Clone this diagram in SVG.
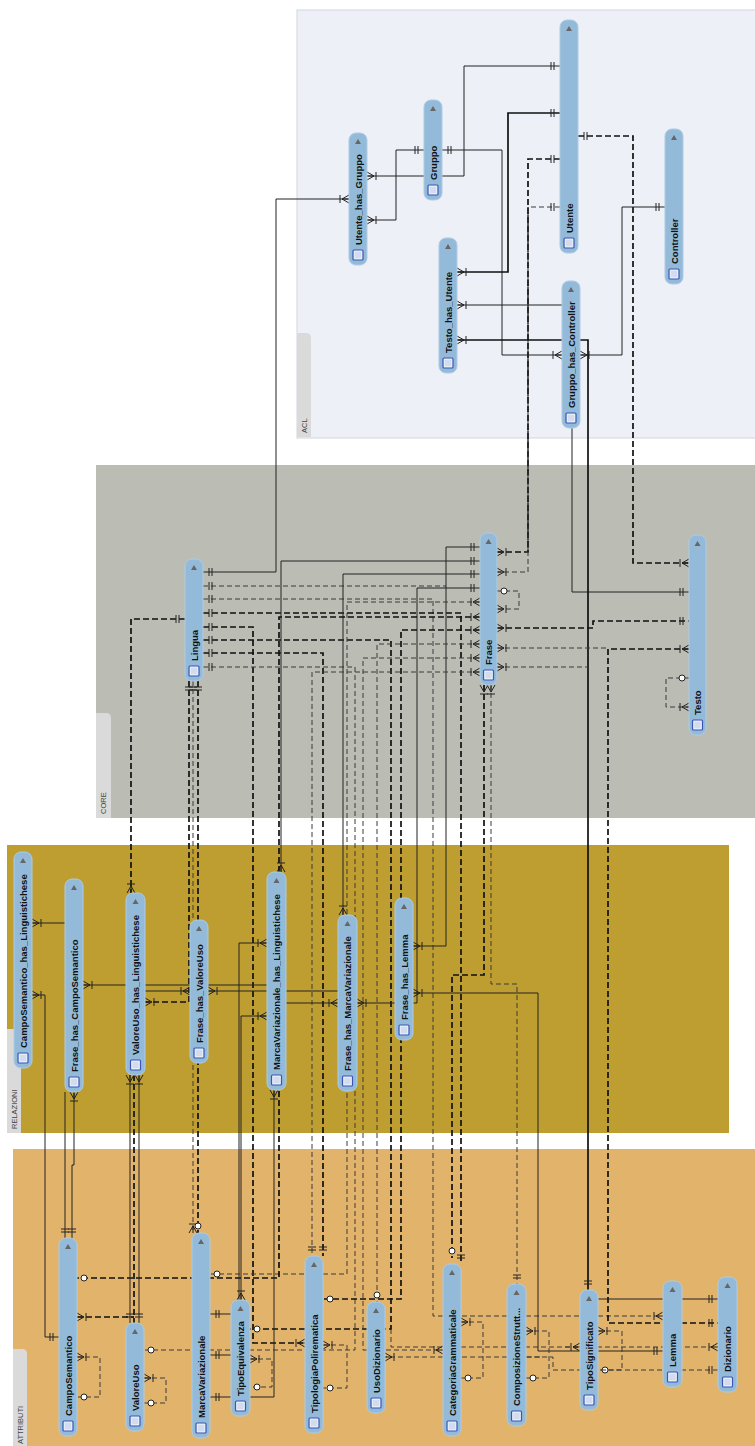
<svg xmlns="http://www.w3.org/2000/svg" xmlns:xlink="http://www.w3.org/1999/xlink" width="755" height="1446" viewBox="0 0 755 1446">
<style>
.s{fill:none;stroke:#222;stroke-width:1}
.sb{fill:none;stroke:#111;stroke-width:1.7}
.d{fill:none;stroke:#3a3a3a;stroke-width:1;stroke-dasharray:5 3}
.db{fill:none;stroke:#111;stroke-width:1.7;stroke-dasharray:6 3}
.node{fill:#93bbd9;stroke:#aecbe3;stroke-width:1}
.lbl{font-family:"Liberation Sans",Arial,sans-serif;font-weight:bold;font-size:9.5px;fill:#111}
.reg{font-family:"Liberation Sans",Arial,sans-serif;font-size:7.5px;fill:#444}
.tab{fill:#dadada}
</style>
<defs>
<marker id="one" viewBox="-12 -6 12 12" refX="0" refY="0" markerWidth="12" markerHeight="12" markerUnits="userSpaceOnUse" orient="auto-start-reverse"><path d="M-9,-4V4M-6,-4V4" stroke="#222" stroke-width="1" fill="none"/></marker>
<marker id="many" viewBox="-12 -6 12 12" refX="0" refY="0" markerWidth="12" markerHeight="12" markerUnits="userSpaceOnUse" orient="auto-start-reverse"><path d="M-7,0L0,-4M-7,0L0,4M-7,0H0M-9,-4V4" stroke="#222" stroke-width="1" fill="none"/></marker>
<marker id="zero" viewBox="-12 -6 12 12" refX="0" refY="0" markerWidth="12" markerHeight="12" markerUnits="userSpaceOnUse" orient="auto-start-reverse"><circle cx="-7" cy="0" r="3" fill="#fff" stroke="#222" stroke-width="1"/></marker>
<g id="tri"><path d="M-3,3L0,-2L3,3Z" fill="#666"/></g>
<g id="ico"><rect x="-5" y="-5" width="10" height="10" rx="1" fill="#e4ecf7" stroke="#3b56b5" stroke-width="1.2"/><path d="M-3,-2H3M-3,0H3M-3,2H3" stroke="#a9bbd8" stroke-width="0.6"/></g>
</defs>

<g id="regions">
<rect x="297" y="10" width="460" height="428" fill="#eef0f8" stroke="#d4d6e0"/>
<path class="tab" d="M297,437V333H306Q311,333 311,338V437Z"/>
<text class="reg" transform="translate(307,433) rotate(-90)">ACL</text>
<rect x="96" y="465" width="660" height="353" fill="#bbbcb4"/>
<path class="tab" d="M96,818V713H106Q111,713 111,718V818Z"/>
<text class="reg" transform="translate(106,814) rotate(-90)">CORE</text>
<rect x="7" y="845" width="722" height="288" fill="#bf9e31"/>
<path class="tab" d="M7,1133V1029H16Q21,1029 21,1034V1133Z"/>
<text class="reg" transform="translate(17,1129) rotate(-90)">RELAZIONI</text>
<rect x="13" y="1149" width="745" height="300" fill="#e2b46b"/>
<path class="tab" d="M13,1446V1349H22Q27,1349 27,1354V1446Z"/>
<text class="reg" transform="translate(23,1444) rotate(-90)">ATTRIBUTI</text>
</g>

<g id="connectors">
<path class="s" d="M560,66H464V176H367" marker-start="url(#one)" marker-end="url(#many)"/>
<path class="s" d="M424,150H396V220H367" marker-start="url(#one)" marker-end="url(#many)"/>
<path class="s" d="M442,150H502V355H562" marker-start="url(#one)" marker-end="url(#many)"/>
<path class="sb" d="M560,113H508V272H457" marker-start="url(#one)" marker-end="url(#many)"/>
<path class="db" d="M560,159H528V552H497" marker-start="url(#one)" marker-end="url(#many)"/>
<path class="d" d="M560,207H528V572H497" marker-start="url(#one)" marker-end="url(#many)"/>
<path class="s" d="M528,207V552"/>
<path class="db" d="M578,136H633V563H689" marker-start="url(#one)" marker-end="url(#many)"/>
<path class="s" d="M665,207H622V355H580" marker-start="url(#one)" marker-end="url(#many)"/>
<path class="s" d="M689,592H572V305H457" marker-start="url(#one)" marker-end="url(#many)"/>
<path class="sb" d="M457,340H588V1290" marker-start="url(#many)" marker-end="url(#one)"/>
<path class="s" d="M203,572H276V199H349" marker-start="url(#one)" marker-end="url(#many)"/>

<path class="d" d="M203,586H446" marker-start="url(#one)"/>
<path class="d" d="M203,599H433V1316H663" marker-start="url(#one)" marker-end="url(#many)"/>
<path class="db" d="M203,613H461V1264" marker-start="url(#one)" marker-end="url(#one)"/>
<path class="db" d="M203,627H253V1343H305" marker-start="url(#one)" marker-end="url(#many)"/>
<path class="db" d="M203,640H391V1329H250" marker-start="url(#one)" marker-end="url(#zero)"/>
<path class="d" d="M391,1329V1347H718" marker-end="url(#many)"/>
<path class="d" d="M565,1347H580" marker-end="url(#many)"/>
<path class="db" d="M203,653H323V1256" marker-start="url(#one)" marker-end="url(#one)"/>
<path class="d" d="M203,667H355V1350H144" marker-start="url(#one)" marker-end="url(#zero)"/>
<path class="db" d="M185,619H131V893" marker-start="url(#one)" marker-end="url(#many)"/>
<path class="db" d="M189,681V1002H145" marker-start="url(#one)" marker-end="url(#many)"/>
<path class="d" d="M193,681V1233" marker-start="url(#one)" marker-end="url(#many)"/>
<path class="db" d="M198,681V1233" marker-start="url(#one)" marker-end="url(#zero)"/>

<path class="s" d="M480,547H446V946H413" marker-start="url(#one)" marker-end="url(#many)"/>
<path class="s" d="M480,561H281V872" marker-start="url(#one)" marker-end="url(#many)"/>
<path class="s" d="M480,574H343V915" marker-start="url(#one)" marker-end="url(#many)"/>
<path class="s" d="M480,588H417V1003H357" marker-start="url(#one)" marker-end="url(#many)"/>
<path class="d" d="M480,602H347V1274H210" marker-start="url(#many)" marker-end="url(#zero)"/>
<path class="db" d="M480,617H279V1278H77" marker-start="url(#many)" marker-end="url(#zero)"/>
<path class="db" d="M480,630H401V1299H323" marker-start="url(#many)" marker-end="url(#zero)"/>
<path class="d" d="M480,644H377V1302" marker-start="url(#many)" marker-end="url(#zero)"/>
<path class="d" d="M480,658H363V1350H443" marker-start="url(#many)" marker-end="url(#many)"/>
<path class="d" d="M480,672H312V1256" marker-start="url(#many)" marker-end="url(#one)"/>

<path class="d" d="M497,591H519V609H497" marker-start="url(#zero)" marker-end="url(#many)"/>
<path class="db" d="M497,628H593V621H689" marker-start="url(#many)" marker-end="url(#one)"/>
<path class="d" d="M497,648H606" marker-start="url(#many)"/>
<path class="db" d="M689,649H608V1323H718" marker-start="url(#many)" marker-end="url(#one)"/>
<path class="d" d="M497,667H588" marker-start="url(#many)"/>
<path class="d" d="M689,678H666V707H689" marker-start="url(#zero)" marker-end="url(#many)"/>
<path class="db" d="M484,685V975H452V1258" marker-start="url(#many)" marker-end="url(#zero)"/>
<path class="d" d="M491,685V984H517V1284" marker-start="url(#many)" marker-end="url(#one)"/>

<path class="s" d="M65,923H32" marker-end="url(#many)"/>
<path class="s" d="M59,1337H45V995H32" marker-start="url(#one)" marker-end="url(#many)"/>
<path class="s" d="M83,985H267" marker-start="url(#many)"/>
<path class="s" d="M145,991H190" marker-end="url(#many)"/>
<path class="s" d="M338,991H208" marker-end="url(#many)"/>
<path class="s" d="M286,1003H338" marker-end="url(#many)"/>
<path class="s" d="M413,993H538V1351H663" marker-start="url(#many)" marker-end="url(#one)"/>
<path class="s" d="M210,1314H239V943H267" marker-start="url(#one)" marker-end="url(#many)"/>
<path class="s" d="M241,1300V1016H267" marker-start="url(#many)" marker-end="url(#many)"/>
<path class="s" d="M210,1397H274V1090" marker-start="url(#one)" marker-end="url(#many)"/>
<path class="s" d="M130,1075V1323" marker-start="url(#many)" marker-end="url(#one)"/>
<path class="db" d="M134,1075V1323"/>
<path class="s" d="M139,1075V1323" marker-start="url(#many)" marker-end="url(#one)"/>
<path class="db" d="M77,1317H134" marker-start="url(#many)"/>
<path class="s" d="M74,1092V1165H72V1238" marker-start="url(#many)" marker-end="url(#one)"/>
<path class="s" d="M65,1092V1238" marker-end="url(#one)"/>
<path class="d" d="M77,1357H100V1397H77" marker-start="url(#many)" marker-end="url(#zero)"/>
<path class="d" d="M144,1378H166V1403H144" marker-start="url(#many)" marker-end="url(#zero)"/>
<path class="d" d="M250,1359H272V1387H250" marker-start="url(#many)" marker-end="url(#zero)"/>
<path class="s" d="M210,1355H231" marker-start="url(#one)"/>
<path class="d" d="M323,1345H347V1388H323" marker-start="url(#many)" marker-end="url(#zero)"/>
<path class="d" d="M461,1322H483V1378H461" marker-start="url(#many)" marker-end="url(#zero)"/>
<path class="d" d="M526,1331H549V1378H526" marker-start="url(#many)" marker-end="url(#zero)"/>
<path class="d" d="M598,1331H622V1370H598" marker-start="url(#many)" marker-end="url(#zero)"/>
<path class="d" d="M718,1370H553V1357H385" marker-start="url(#one)" marker-end="url(#many)"/>
<path class="d" d="M540,1357H507" marker-end="url(#many)"/>
<path class="s" d="M598,1299H718" marker-end="url(#one)"/>
</g>

<g id="n-Utente_has_Gruppo"><rect class="node" x="349" y="133" width="18" height="132" rx="7"/><use href="#tri" x="358" y="141"/><use href="#ico" x="358" y="255"/><text class="lbl" transform="translate(361.5,245) rotate(-90)">Utente_has_Gruppo</text></g>
<g id="n-Gruppo"><rect class="node" x="424" y="100" width="18" height="100" rx="7"/><use href="#tri" x="433" y="108"/><use href="#ico" x="433" y="190"/><text class="lbl" transform="translate(436.5,180) rotate(-90)">Gruppo</text></g>
<g id="n-Utente"><rect class="node" x="560" y="20" width="18" height="233" rx="7"/><use href="#tri" x="569" y="28"/><use href="#ico" x="569" y="243"/><text class="lbl" transform="translate(572.5,233) rotate(-90)">Utente</text></g>
<g id="n-Controller"><rect class="node" x="665" y="129" width="18" height="155" rx="7"/><use href="#tri" x="674" y="137"/><use href="#ico" x="674" y="274"/><text class="lbl" transform="translate(677.5,264) rotate(-90)">Controller</text></g>
<g id="n-Testo_has_Utente"><rect class="node" x="439" y="238" width="18" height="135" rx="7"/><use href="#tri" x="448" y="246"/><use href="#ico" x="448" y="363"/><text class="lbl" transform="translate(451.5,353) rotate(-90)">Testo_has_Utente</text></g>
<g id="n-Gruppo_has_Controller"><rect class="node" x="562" y="281" width="18" height="147" rx="7"/><use href="#tri" x="571" y="289"/><use href="#ico" x="571" y="418"/><text class="lbl" transform="translate(574.5,408) rotate(-90)">Gruppo_has_Controller</text></g>

<g id="n-Lingua"><rect class="node" x="185" y="559" width="18" height="122" rx="7"/><use href="#tri" x="194" y="567"/><use href="#ico" x="194" y="671"/><text class="lbl" transform="translate(197.5,661) rotate(-90)">Lingua</text></g>
<g id="n-Frase"><rect class="node" x="480" y="533" width="17" height="152" rx="7"/><use href="#tri" x="488.5" y="541"/><use href="#ico" x="488.5" y="675"/><text class="lbl" transform="translate(492,665) rotate(-90)">Frase</text></g>
<g id="n-Testo"><rect class="node" x="689" y="535" width="17" height="200" rx="7"/><use href="#tri" x="697.5" y="543"/><use href="#ico" x="697.5" y="725"/><text class="lbl" transform="translate(701,715) rotate(-90)">Testo</text></g>

<g id="n-CampoSemantico_has_Linguistichese"><rect class="node" x="14" y="852" width="18" height="216" rx="7"/><use href="#tri" x="23" y="860"/><use href="#ico" x="23" y="1058"/><text class="lbl" transform="translate(26.5,1048) rotate(-90)">CampoSemantico_has_Linguistichese</text></g>
<g id="n-Frase_has_CampoSemantico"><rect class="node" x="65" y="879" width="18" height="213" rx="7"/><use href="#tri" x="74" y="887"/><use href="#ico" x="74" y="1082"/><text class="lbl" transform="translate(77.5,1072) rotate(-90)">Frase_has_CampoSemantico</text></g>
<g id="n-ValoreUso_has_Linguistichese"><rect class="node" x="126" y="893" width="19" height="182" rx="7"/><use href="#tri" x="135.5" y="901"/><use href="#ico" x="135.5" y="1065"/><text class="lbl" transform="translate(139,1055) rotate(-90)">ValoreUso_has_Linguistichese</text></g>
<g id="n-Frase_has_ValoreUso"><rect class="node" x="190" y="920" width="18" height="143" rx="7"/><use href="#tri" x="199" y="928"/><use href="#ico" x="199" y="1053"/><text class="lbl" transform="translate(202.5,1043) rotate(-90)">Frase_has_ValoreUso</text></g>
<g id="n-MarcaVariazionale_has_Linguistichese"><rect class="node" x="267" y="872" width="19" height="218" rx="7"/><use href="#tri" x="276.5" y="880"/><use href="#ico" x="276.5" y="1080"/><text class="lbl" transform="translate(280,1070) rotate(-90)">MarcaVariazionale_has_Linguistichese</text></g>
<g id="n-Frase_has_MarcaVariazionale"><rect class="node" x="338" y="915" width="19" height="176" rx="7"/><use href="#tri" x="347.5" y="923"/><use href="#ico" x="347.5" y="1081"/><text class="lbl" transform="translate(351,1071) rotate(-90)">Frase_has_MarcaVariazionale</text></g>
<g id="n-Frase_has_Lemma"><rect class="node" x="395" y="898" width="18" height="142" rx="7"/><use href="#tri" x="404" y="906"/><use href="#ico" x="404" y="1030"/><text class="lbl" transform="translate(407.5,1020) rotate(-90)">Frase_has_Lemma</text></g>

<g id="n-CampoSemantico"><rect class="node" x="59" y="1238" width="18" height="198" rx="7"/><use href="#tri" x="68" y="1246"/><use href="#ico" x="68" y="1426"/><text class="lbl" transform="translate(71.5,1416) rotate(-90)">CampoSemantico</text></g>
<g id="n-ValoreUso"><rect class="node" x="126" y="1323" width="18" height="108" rx="7"/><use href="#tri" x="135" y="1331"/><use href="#ico" x="135" y="1421"/><text class="lbl" transform="translate(138.5,1411) rotate(-90)">ValoreUso</text></g>
<g id="n-MarcaVariazionale"><rect class="node" x="192" y="1233" width="18" height="205" rx="7"/><use href="#tri" x="201" y="1241"/><use href="#ico" x="201" y="1428"/><text class="lbl" transform="translate(204.5,1418) rotate(-90)">MarcaVariazionale</text></g>
<g id="n-TipoEquivalenza"><rect class="node" x="231" y="1300" width="19" height="116" rx="7"/><use href="#tri" x="240.5" y="1308"/><use href="#ico" x="240.5" y="1406"/><text class="lbl" transform="translate(244,1396) rotate(-90)">TipoEquivalenza</text></g>
<g id="n-TipologiaPolirematica"><rect class="node" x="305" y="1256" width="18" height="177" rx="7"/><use href="#tri" x="314" y="1264"/><use href="#ico" x="314" y="1423"/><text class="lbl" transform="translate(317.5,1413) rotate(-90)">TipologiaPolirematica</text></g>
<g id="n-UsoDizionario"><rect class="node" x="367" y="1302" width="18" height="111" rx="7"/><use href="#tri" x="376" y="1310"/><use href="#ico" x="376" y="1403"/><text class="lbl" transform="translate(379.5,1393) rotate(-90)">UsoDizionario</text></g>
<g id="n-CategoriaGrammaticale"><rect class="node" x="443" y="1264" width="18" height="172" rx="7"/><use href="#tri" x="452" y="1272"/><use href="#ico" x="452" y="1426"/><text class="lbl" transform="translate(455.5,1416) rotate(-90)">CategoriaGrammaticale</text></g>
<g id="n-ComposizioneStrutt"><rect class="node" x="507" y="1284" width="19" height="142" rx="7"/><use href="#tri" x="516.5" y="1292"/><use href="#ico" x="516.5" y="1416"/><text class="lbl" transform="translate(520,1406) rotate(-90)">ComposizioneStrutt...</text></g>
<g id="n-TipoSignificato"><rect class="node" x="580" y="1290" width="18" height="120" rx="7"/><use href="#tri" x="589" y="1298"/><use href="#ico" x="589" y="1400"/><text class="lbl" transform="translate(592.5,1390) rotate(-90)">TipoSignificato</text></g>
<g id="n-Lemma"><rect class="node" x="663" y="1281" width="19" height="106" rx="7"/><use href="#tri" x="672.5" y="1289"/><use href="#ico" x="672.5" y="1377"/><text class="lbl" transform="translate(676,1367) rotate(-90)">Lemma</text></g>
<g id="n-Dizionario"><rect class="node" x="718" y="1277" width="19" height="115" rx="7"/><use href="#tri" x="727.5" y="1285"/><use href="#ico" x="727.5" y="1382"/><text class="lbl" transform="translate(731,1372) rotate(-90)">Dizionario</text></g>
</svg>
